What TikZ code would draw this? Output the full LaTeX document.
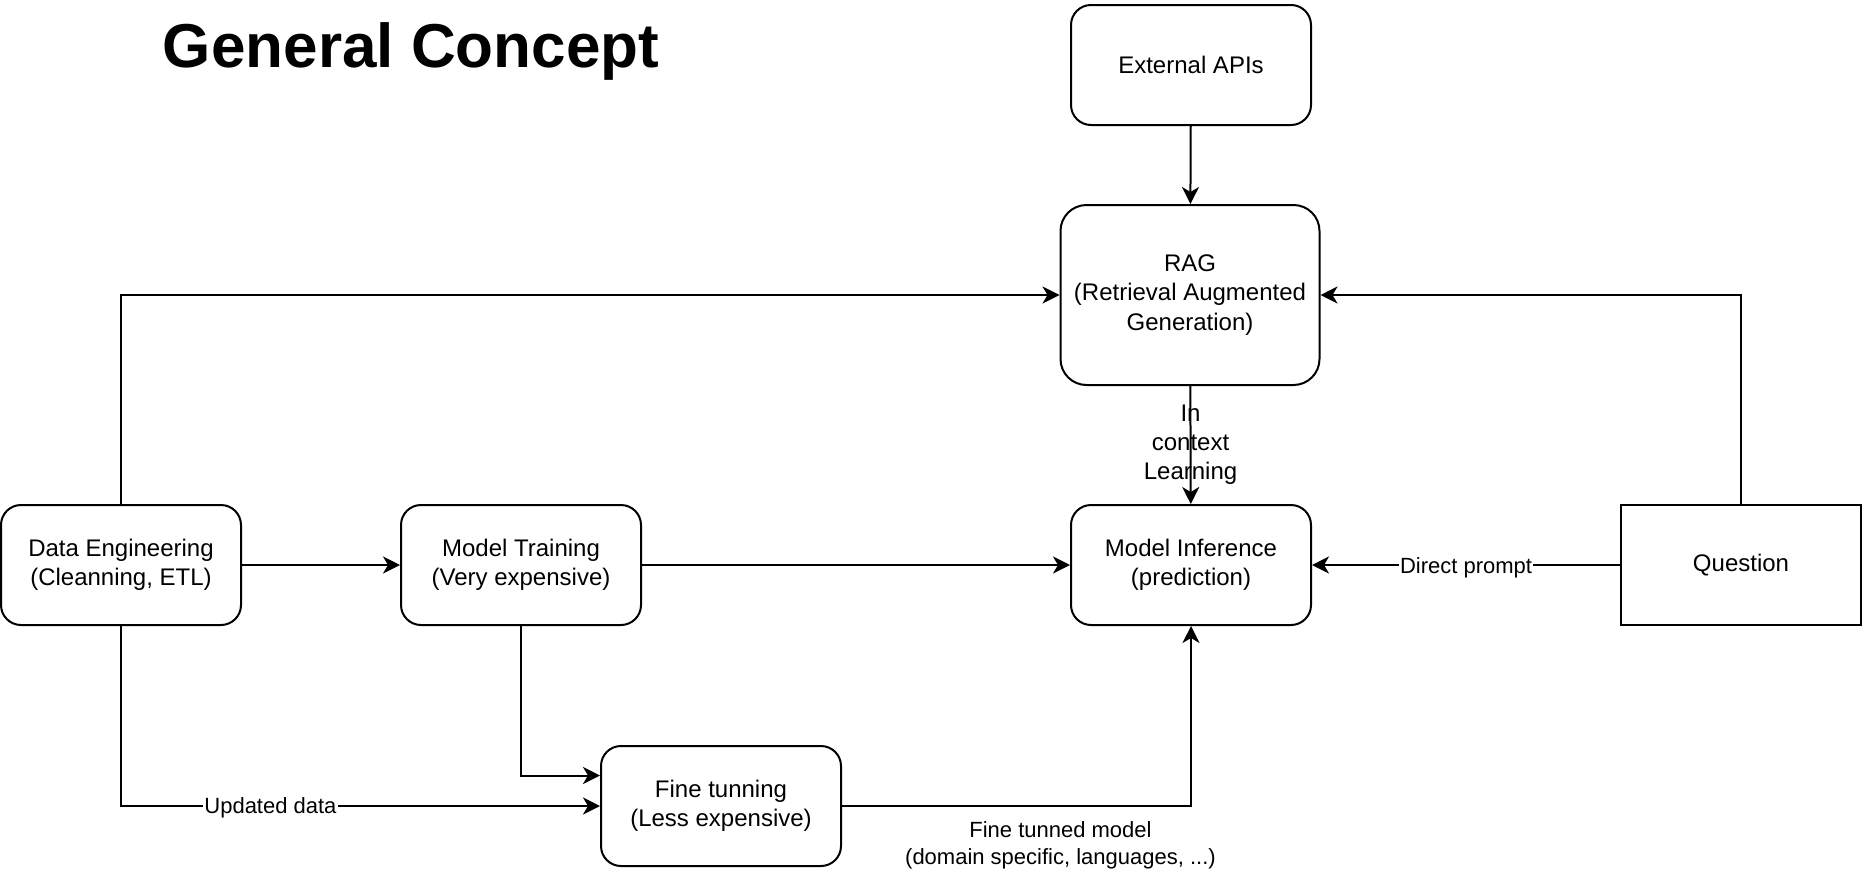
\documentclass[tikz,border=0pt]{standalone}
\usepackage{fontspec}
\setmainfont{Liberation Sans}
\usetikzlibrary{arrows.meta,calc}
\begin{document}
\begin{tikzpicture}[x=1pt,y=-1pt,
  box/.style={draw,line width=2pt,rounded corners=20pt,minimum width=240pt,minimum height=120pt,align=center,font=\fontsize{24}{29.5}\selectfont,inner sep=0pt},
  ragbox/.style={box,rounded corners=26pt,minimum width=259pt,minimum height=180pt},
  sqbox/.style={box,sharp corners},
  arr/.style={line width=2pt,-{Stealth[length=17pt,width=17pt,inset=5pt]}},
  elabel/.style={font=\fontsize{22}{27}\selectfont,align=center,inner sep=1pt},
  wlabel/.style={elabel,fill=white}
]
\useasboundingbox (0,0) rectangle (1862,870);
\node[font=\fontsize{62}{70}\selectfont\bfseries,anchor=base] (title) at (411,67) {General Concept};

\node[box] (api) at (1191,65) {External APIs};
\node[ragbox] (rag) at (1190,295) {RAG\\(Retrieval Augmented\\Generation)};
\node[box] (de) at (121,565) {Data Engineering\\(Cleanning, ETL)};
\node[box] (mt) at (521,565) {Model Training\\(Very expensive)};
\node[box] (mi) at (1191,565) {Model Inference\\(prediction)};
\node[sqbox] (q) at (1741,565) {Question};
\node[box] (ft) at (721,806) {Fine tunning\\(Less expensive)};

\coordinate (ftin) at ($(ft.north west)!0.25!(ft.south west)$);

\draw[arr] (api) -- (rag);
\draw[arr] (de.north) |- (rag.west);
\draw[arr] (q.north) |- (rag.east);
\draw[arr] (rag) -- node[elabel,font=\fontsize{24}{29}\selectfont] {In\\context\\Learning} (mi);
\draw[arr] (de) -- (mt);
\draw[arr] (mt) -- (mi);
\draw[arr] (q) -- node[wlabel,yshift=-3pt] {Direct prompt} (mi);
\draw[arr] (mt.south) |- (ftin);
\draw[arr] (de.south) |- node[wlabel,pos=0.656,yshift=-2pt] {Updated data} (ft.west);
\draw[arr] (ft.east) -| node[elabel,pos=0.313,anchor=north,yshift=-14pt] {Fine tunned model\\(domain specific, languages, ...)} (mi.south);
\end{tikzpicture}
\end{document}
